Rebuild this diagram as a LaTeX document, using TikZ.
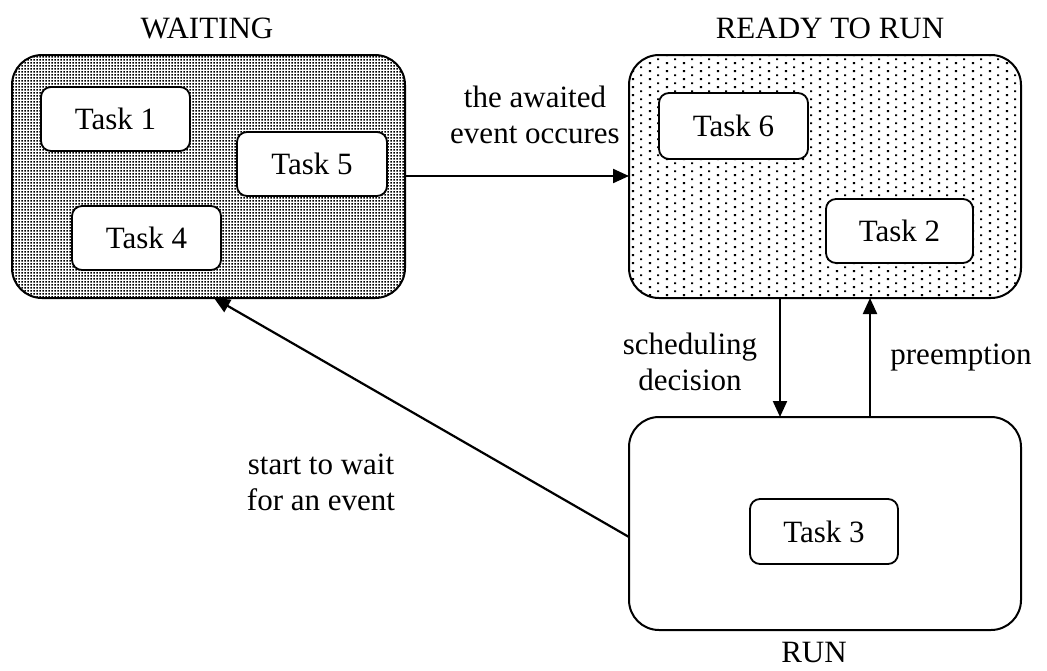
\documentclass[tikz,border=0pt]{standalone}
\usepackage{fontspec}
\setmainfont{Liberation Serif}
\usetikzlibrary{arrows.meta,patterns}

% fine dark dot screen
\pgfdeclarepatternformonly{densedots}{\pgfpointorigin}{\pgfqpoint{3pt}{3pt}}{\pgfqpoint{3pt}{3pt}}{%
  \pgfpathrectangle{\pgfqpoint{0.5pt}{0.5pt}}{\pgfqpoint{2pt}{2pt}}\pgfusepath{fill}}
% sparse staggered dot screen
\pgfdeclarepatternformonly{sparsedots}{\pgfpointorigin}{\pgfqpoint{16.6pt}{8.3pt}}{\pgfqpoint{16.6pt}{8.3pt}}{%
  \pgfpathrectangle{\pgfqpoint{1pt}{1pt}}{\pgfqpoint{2.1pt}{2.1pt}}%
  \pgfpathrectangle{\pgfqpoint{9.3pt}{5.15pt}}{\pgfqpoint{2.1pt}{2.1pt}}\pgfusepath{fill}}

\tikzset{
  txt/.style={font=\fontsize{31}{36}\selectfont, align=center, inner sep=0pt},
  statebox/.style={draw=black, line width=2pt, rounded corners=30pt},
  taskbox/.style={draw=black, fill=white, line width=1.8pt, rounded corners=10pt},
  flow/.style={line width=2.2pt, -{Triangle[length=16pt,width=14pt]}},
}

\begin{document}
\begin{tikzpicture}[x=1pt,y=-1pt]
\useasboundingbox (0,0) rectangle (1047,670);

% state areas
\draw[statebox, pattern=densedots] (12,55) rectangle (405,298);
\draw[statebox, pattern=sparsedots] (629,55) rectangle (1021,298);
\draw[statebox, fill=white] (629,417) rectangle (1021,630);
\coordinate (waitE) at (405,176);
\coordinate (waitS) at (214,298);
\coordinate (readyW) at (629,176);
\coordinate (readyS1) at (780,298);
\coordinate (readyS2) at (870,298);
\coordinate (runN1) at (780,417);
\coordinate (runN2) at (870,417);
\coordinate (runW) at (629,537);

% tasks
\draw[taskbox] (41,87) rectangle (190,151);   \node[txt] (t1) at (115.5,119) {Task 1};
\draw[taskbox] (237,132) rectangle (387,196); \node[txt] (t5) at (312,164) {Task 5};
\draw[taskbox] (72,206) rectangle (221,270);  \node[txt] (t4) at (146.5,238) {Task 4};
\draw[taskbox] (659,93) rectangle (808,159);  \node[txt] (t6) at (733.5,126) {Task 6};
\draw[taskbox] (826,199) rectangle (973,263); \node[txt] (t2) at (899.5,231) {Task 2};
\draw[taskbox] (750,499) rectangle (898,564); \node[txt] (t3) at (824,531.5) {Task 3};

% state titles
\node[txt] (lwait) at (207,28) {WAITING};
\node[txt] (lready) at (830,28) {READY TO RUN};
\node[txt] (lrun) at (814,652) {RUN};

% transitions
\draw[flow] (waitE) -- (readyW);
\draw[flow] (readyS1) -- (runN1);
\draw[flow] (runN2) -- (readyS2);
\draw[flow] (runW) -- (waitS);

% transition labels
\node[txt] (lev) at (535,115) {the awaited\\event occures};
\node[txt] (lsch) at (690,362) {scheduling\\decision};
\node[txt] (lpre) at (961,358) {preemption};
\node[txt] (lst) at (321,482) {start to wait\\for an event};
\end{tikzpicture}
\end{document}
